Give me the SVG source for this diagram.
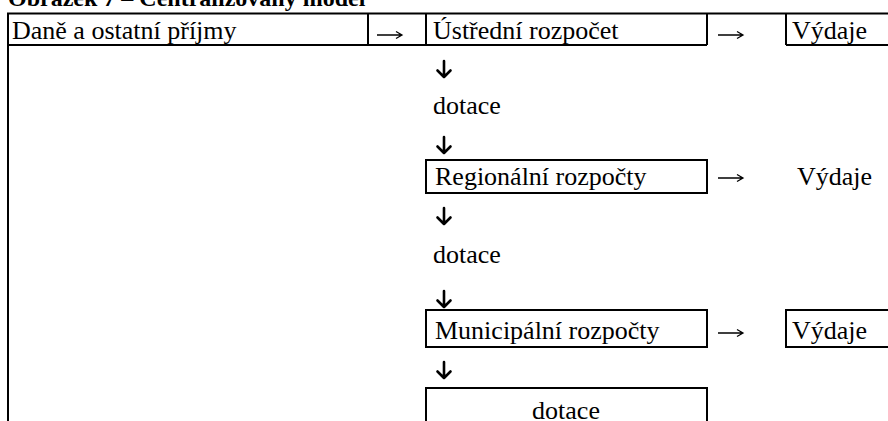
<svg xmlns="http://www.w3.org/2000/svg" width="888" height="421" viewBox="0 0 888 421">
<style>
text{font-family:"Liberation Serif","Times New Roman",serif;font-size:26px;fill:#000}
.title{font-weight:bold;font-size:24px}
.ln{stroke:#000;stroke-width:2;fill:none}
.box{stroke:#000;stroke-width:2;fill:#fff}
.ra{stroke:#000;stroke-width:1.3;fill:none}
.da{stroke:#000;stroke-width:2.6;fill:none;stroke-linecap:round;stroke-linejoin:round}
</style>
<rect width="888" height="421" fill="#fff"/>
<text class="title" x="8" y="6">Obrázek 7 – Centralizovaný model</text>
<g id="frame">
<path class="ln" d="M7 13.5H888 M8 12.5V421 M7 45H707 M786 45H888 M368 13V45 M426 13V45 M707 13V45 M786 13V45"/>
</g>
<g id="n-prijmy"><text x="12" y="39">Daně a ostatní příjmy</text></g>
<g id="n-ustredni"><text x="433" y="39">Ústřední rozpočet</text></g>
<g id="n-vydaje1"><text x="792" y="39">Výdaje</text></g>
<g id="n-dotace1"><text x="433" y="114">dotace</text></g>
<g id="n-regionalni"><rect class="box" x="426" y="160" width="281" height="33"/><text x="435" y="185">Regionální rozpočty</text></g>
<g id="n-vydaje2"><text x="797" y="185">Výdaje</text></g>
<g id="n-dotace2"><text x="433" y="263">dotace</text></g>
<g id="n-municipalni"><rect class="box" x="426" y="310" width="281" height="37"/><text x="435" y="339">Municipální rozpočty</text></g>
<g id="n-vydaje3"><path class="ln" d="M888 310H786V347H888"/><text x="792" y="339">Výdaje</text></g>
<g id="n-dotace3"><path class="ln" d="M426 421V388H707V421"/><text x="566" y="419" text-anchor="middle">dotace</text></g>
<g id="connectors">
<path class="ra" d="M377 35H402 M396 31.5L402 35L396 38.5"/>
<path class="ra" d="M718 35H743 M737 31.5L743 35L737 38.5"/>
<path class="ra" d="M718 178H743 M737 174.5L743 178L737 181.5"/>
<path class="ra" d="M718 333H743 M737 329.5L743 333L737 336.5"/>
<path class="da" d="M444 61V77 M437.5 70.5L444 77L450.5 70.5"/>
<path class="da" d="M444 137V153 M437.5 146.5L444 153L450.5 146.5"/>
<path class="da" d="M444 208V224 M437.5 217.5L444 224L450.5 217.5"/>
<path class="da" d="M444 291V307 M437.5 300.5L444 307L450.5 300.5"/>
<path class="da" d="M444 362V378 M437.5 371.5L444 378L450.5 371.5"/>
</g>
</svg>
